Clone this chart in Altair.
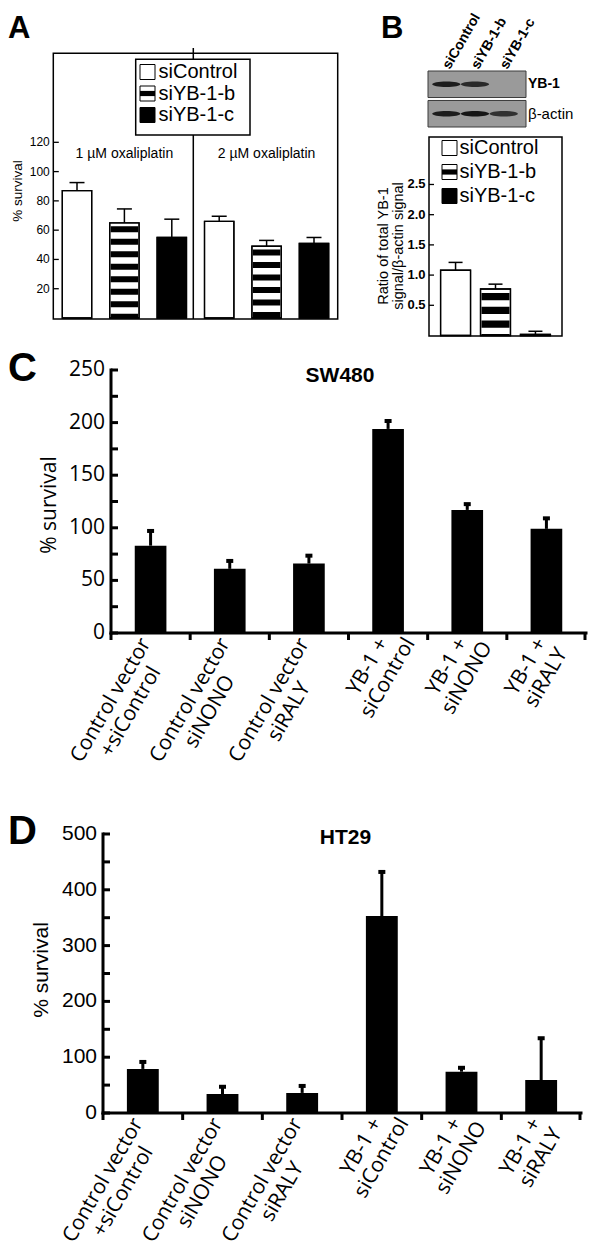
import altair as alt
import pandas as pd

# ---------------- values ----------------
A_DOSES = ["1 µM oxaliplatin"] * 3 + ["2 µM oxaliplatin"] * 3
A_SERIES = ["siControl", "siYB-1-b", "siYB-1-c"] * 2
A_VALUES = [87, 65, 55, 66, 49, 51]
A_ERRORS = [5.5, 9.5, 12.5, 3.5, 4.0, 4.0]
A_TICKS = [20, 40, 60, 80, 100, 120]

B_SERIES = ["siControl", "siYB-1-b", "siYB-1-c"]
B_VALUES = [1.08, 0.77, 0.02]
B_ERRORS = [0.13, 0.08, 0.05]
B_TICKS = [0.5, 1.0, 1.5, 2.0, 2.5]

BLOT_LANES = ["siControl", "siYB-1-b", "siYB-1-c"]
BLOT_PROTEINS = ["YB-1", "β-actin"]
BLOT_YB1 = [0.95, 0.85, 0.0]
BLOT_ACTIN = [0.95, 1.0, 0.8]

CONDITIONS = ["Control vector\n+siControl", "Control vector\nsiNONO", "Control vector\nsiRALY",
              "YB-1 +\nsiControl", "YB-1 +\nsiNONO", "YB-1 +\nsiRALY"]
C_VALUES = [83, 61, 66, 194, 117, 99]
C_ERRORS = [14, 7.5, 7.5, 7.5, 5.5, 10]
C_LABELS = [0, 50, 100, 150, 200, 250]
C_TICKS = [0, 25, 50, 75, 100, 125, 150, 175, 200, 225, 250]
D_VALUES = [79, 34, 36, 353, 74, 59]
D_ERRORS = [12.5, 13, 12.5, 79, 7, 75]
D_LABELS = [0, 100, 200, 300, 400, 500]
D_TICKS = [0, 50, 100, 150, 200, 250, 300, 350, 400, 450, 500]

# ---------------- layout helpers ----------------
W, H = 584, 1240
FA = "Liberation Sans"
FO = "Open Sans"
K = "black"
one = pd.DataFrame({"k": [0]})


def P(v):
    """page pixel -> chart pixel (page has an 8px margin)"""
    return v - 8.0


OS_W = {" ": 0.26, "C": 0.633, "o": 0.602, "n": 0.613, "t": 0.353, "r": 0.408, "l": 0.258,
        "v": 0.496, "e": 0.561, "c": 0.479, "Y": 0.537, "B": 0.639, "-": 0.322, "1": 0.572,
        "+": 0.572, "s": 0.487, "i": 0.258, "N": 0.752, "O": 0.785, "R": 0.63, "A": 0.635,
        "L": 0.531}


def text_w(s, fs):
    return sum(OS_W.get(ch, 0.56) for ch in s) * fs


XL_FS = 21
XL_LH = 23
U, V = -8.5, -0.5   # label anchor shift in the rotated text frame


def txt(text, x, y, size, font=FA, weight="normal", angle=0, align="left", baseline="alphabetic"):
    return alt.Chart(one).mark_text(text=text, font=font, fontSize=size, fontWeight=weight,
                                    angle=angle, align=align, baseline=baseline, color=K).encode(
        x=alt.value(P(x)), y=alt.value(P(y)))


def rect(x1, x2, y1, y2, fill="white", stroke=K, sw=1.0, fop=1.0):
    return alt.Chart(one).mark_rect(fill=fill, fillOpacity=fop, stroke=stroke, strokeWidth=sw).encode(
        x=alt.value(P(x1)), x2=alt.value(P(x2)), y=alt.value(P(y1)), y2=alt.value(P(y2)))


def legend(xs, xt, centers, size=15, fs=20):
    out = []
    fills = {"siControl": "white", "siYB-1-b": "white", "siYB-1-c": K}
    for s, cy in zip(B_SERIES, centers):
        out.append(rect(xs, xs + size, cy - size / 2, cy + size / 2, fill=fills[s], sw=1.0))
        if s == "siYB-1-b":
            out.append(rect(xs, xs + size, cy - 2.6, cy + 2.6, fill=K, sw=0))
        out.append(txt(s, xt, cy, fs, baseline="middle"))
    return out


def y_labels(ticks, scale, x_axis, pad, font, size, weight="normal", fmt=None):
    t = alt.Text("t:Q", format=fmt) if fmt else alt.Text("t:Q")
    return alt.Chart(pd.DataFrame({"t": ticks})).mark_text(
        align="right", baseline="middle", font=font, fontSize=size, fontWeight=weight, color=K).encode(
        y=alt.Y("t:Q", scale=scale, axis=None), x=alt.value(P(x_axis) - pad), text=t)


def in_ticks(ticks, scale, x_axis, length, width):
    return alt.Chart(pd.DataFrame({"t": ticks})).mark_rule(strokeWidth=width, color=K).encode(
        y=alt.Y("t:Q", scale=scale, axis=None), x=alt.value(P(x_axis)), x2=alt.value(P(x_axis) + length))


FILL = {"siControl": "white", "siYB-1-b": "white", "siYB-1-c": K}

# ---------------- Panel A ----------------
dfA = pd.DataFrame({"dose": A_DOSES, "series": A_SERIES, "value": A_VALUES, "err": A_ERRORS})
dfA["key"] = dfA["dose"] + " / " + dfA["series"]
dfA["top"] = dfA["value"] + dfA["err"]
dfA["zero"] = 0
dfA["fill"] = dfA["series"].map(FILL)

xA = alt.Scale(domain=list(dfA["key"]), range=[P(53.3), P(337.7)], paddingInner=0.38, paddingOuter=0.19)
yA = alt.Scale(domain=[0, 180.8], range=[P(318), P(53.3)])
XA = alt.X("key:N", scale=xA, axis=None)
YA = alt.Y("value:Q", scale=yA, axis=None)
baseA = alt.Chart(dfA)

barsA = baseA.mark_bar(stroke=K, strokeWidth=1.3).encode(x=XA, y=YA, fill=alt.Fill("fill:N", scale=None))
stripesA = baseA.transform_filter("datum.series == 'siYB-1-b'").mark_rule(
    strokeWidth=27.5, strokeDash=[6, 6.5], strokeDashOffset=9.2, color=K).encode(x=XA, y=YA, y2="zero:Q")
outlineA = baseA.mark_bar(fillOpacity=0, stroke=K, strokeWidth=1.3).encode(x=XA, y=YA)
errA = baseA.mark_rule(strokeWidth=1.5, color=K).encode(x=XA, y=YA, y2="top:Q")
capA = baseA.mark_tick(size=15, thickness=1.5, color=K, opacity=1).encode(
    x=XA, y=alt.Y("top:Q", scale=yA, axis=None))
doseA = baseA.transform_filter("datum.series == 'siYB-1-b'").mark_text(
    font=FA, fontSize=14, align="center", baseline="middle", color=K).encode(
    x=XA, y=alt.value(P(154)), text="dose:N")
panelA = alt.layer(barsA, stripesA, outlineA, errA, capA, doseA,
                   in_ticks(A_TICKS, yA, 53.3, 5.5, 1.3),
                   y_labels(A_TICKS, yA, 53.3, 3.5, FA, 12))

decorA = [rect(53.3, 337.7, 53.3, 319, fop=0, sw=1.5)]
decorA.append(alt.Chart(one).mark_rule(color=K, strokeWidth=1.5).encode(
    x=alt.value(P(193.3)), y=alt.value(P(48)), y2=alt.value(P(319))))
decorA.append(rect(135.7, 250, 59.3, 135, fill="white", sw=1.5))
decorA += legend(140, 158.5, [72, 93.5, 115])

# ---------------- Panel B ----------------
dfB = pd.DataFrame({"series": B_SERIES, "value": B_VALUES, "err": B_ERRORS})
dfB["top"] = dfB["value"] + dfB["err"]
dfB["zero"] = 0
dfB["fill"] = dfB["series"].map(FILL)
xB = alt.Scale(domain=B_SERIES, range=[P(429), P(562)], paddingInner=0.25, paddingOuter=0.29)
yB = alt.Scale(domain=[0, 3.286], range=[P(335.5), P(137)])
XB = alt.X("series:N", scale=xB, axis=None)
YB = alt.Y("value:Q", scale=yB, axis=None)
baseB = alt.Chart(dfB)
barsB = baseB.mark_bar(stroke=K, strokeWidth=1.3).encode(x=XB, y=YB, fill=alt.Fill("fill:N", scale=None))
stripesB = baseB.transform_filter("datum.series == 'siYB-1-b'").mark_rule(
    strokeWidth=28, strokeDash=[7.3, 6.4], strokeDashOffset=9.7, color=K).encode(x=XB, y=YB, y2="zero:Q")
outlineB = baseB.mark_bar(fillOpacity=0, stroke=K, strokeWidth=1.3).encode(x=XB, y=YB)
errB = baseB.mark_rule(strokeWidth=1.5, color=K).encode(x=XB, y=YB, y2="top:Q")
capB = baseB.mark_tick(size=14, thickness=1.5, color=K, opacity=1).encode(
    x=XB, y=alt.Y("top:Q", scale=yB, axis=None))
panelB = alt.layer(barsB, stripesB, outlineB, errB, capB,
                   in_ticks(B_TICKS, yB, 429, 5, 1.3),
                   y_labels(B_TICKS, yB, 429, 3.5, FA, 13, weight="bold", fmt=".1f"))

decorB = [rect(429, 562, 137, 336, fop=0, sw=1.5)]
decorB += legend(442, 459.5, [148, 172, 196])

# western blot
dfBlot = pd.DataFrame({"lane": BLOT_LANES * 2,
                       "protein": [BLOT_PROTEINS[0]] * 3 + [BLOT_PROTEINS[1]] * 3,
                       "intensity": BLOT_YB1 + BLOT_ACTIN})
xBl = alt.Scale(domain=BLOT_LANES, range=[P(432), P(518)], paddingInner=0.1, paddingOuter=0.05)
yBl = alt.Scale(domain=BLOT_PROTEINS, range=[P(71), P(127)], paddingInner=0.1, paddingOuter=0)
dfProt = pd.DataFrame({"protein": BLOT_PROTEINS})
blotBoxes = alt.Chart(dfProt).mark_rect(fill="#9a9a9a", stroke="#3a3a3a", strokeWidth=1).encode(
    y=alt.Y("protein:N", scale=yBl, axis=None), x=alt.value(P(428)), x2=alt.value(P(526)))
BAND_SHAPE = "M-1,0 A1,0.2 0 1,0 1,0 A1,0.2 0 1,0 -1,0 Z"
blotBands = alt.Chart(dfBlot).mark_point(shape=BAND_SHAPE, filled=True, color="#151515", size=800,
                                         strokeWidth=0).encode(
    x=alt.X("lane:N", scale=xBl, axis=None), y=alt.Y("protein:N", scale=yBl, axis=None),
    opacity=alt.Opacity("intensity:Q", scale=None))
laneLab = alt.Chart(pd.DataFrame({"lane": BLOT_LANES})).mark_text(
    angle=300, align="left", baseline="middle", font=FA, fontSize=14, fontWeight="bold", color=K, dx=0).encode(
    x=alt.X("lane:N", scale=xBl, axis=None), y=alt.value(P(68)), text="lane:N")
protLab1 = alt.Chart(dfProt).transform_filter("datum.protein == 'YB-1'").mark_text(
    align="left", baseline="middle", font=FA, fontSize=14, fontWeight="bold", color=K).encode(
    y=alt.Y("protein:N", scale=yBl, axis=None), x=alt.value(P(528)), text="protein:N")
protLab2 = alt.Chart(dfProt).transform_filter("datum.protein != 'YB-1'").mark_text(
    align="left", baseline="middle", font=FA, fontSize=15, color=K).encode(
    y=alt.Y("protein:N", scale=yBl, axis=None), x=alt.value(P(528)), text="protein:N")
blot = alt.layer(blotBoxes, blotBands, laneLab, protLab1, protLab2)


# ---------------- Panels C and D ----------------
def survival_panel(values, errors, xl, xr, ybot, ytop, ymax, labels, ticks, label_font):
    df = pd.DataFrame({"cond": CONDITIONS, "value": values, "err": errors})
    df["top"] = df["value"] + df["err"]
    df["zero"] = 0
    parts = [c.split("\n") for c in CONDITIONS]
    df["l1"] = [p[0] for p in parts]
    df["l2"] = [p[1] for p in parts]
    df["ldx"] = [-text_w(p[0], XL_FS) / 2 + U for p in parts]
    xs = alt.Scale(domain=CONDITIONS, range=[P(xl), P(xr)], paddingInner=0.6, paddingOuter=0.3)
    ys = alt.Scale(domain=[0, ymax], range=[P(ybot), P(ytop)])
    X = alt.X("cond:N", scale=xs, axis=None)
    Y = alt.Y("value:Q", scale=ys, axis=None)
    base = alt.Chart(df)
    bars = base.mark_bar(color=K).encode(x=X, y=Y)
    err = base.mark_rule(strokeWidth=3, color=K).encode(x=X, y=Y, y2="top:Q")
    cap = base.mark_tick(size=7, thickness=4, color=K, opacity=1).encode(
        x=X, y=alt.Y("top:Q", scale=ys, axis=None))
    lab1 = base.mark_text(angle=300, align="center", baseline="middle", font=FO, fontSize=XL_FS, color=K,
                          dx=alt.expr("datum.ldx"), dy=V).encode(
        x=X, y=alt.Y("zero:Q", scale=ys, axis=None), text="l1:N")
    lab2 = base.mark_text(angle=300, align="center", baseline="middle", font=FO, fontSize=XL_FS, color=K,
                          dx=alt.expr("datum.ldx"), dy=V + XL_LH).encode(
        x=X, y=alt.Y("zero:Q", scale=ys, axis=None), text="l2:N")
    ext = pd.DataFrame({"lo": [0], "hi": [ymax]})
    yline = alt.Chart(ext).mark_rule(strokeWidth=3, color=K, strokeCap="square").encode(
        x=alt.value(P(xl)), y=alt.Y("lo:Q", scale=ys, axis=None), y2="hi:Q")
    xline = alt.Chart(ext).mark_rule(strokeWidth=3, color=K, strokeCap="square").encode(
        y=alt.Y("lo:Q", scale=ys, axis=None), x=alt.value(P(xl)), x2=alt.value(P(xr)))
    panel = alt.layer(bars, err, cap, lab1, lab2, yline, xline,
                      in_ticks(ticks, ys, xl, 7, 3),
                      y_labels(labels, ys, xl, 6, label_font, 21))
    # x ticks at the band boundaries (same domain and range, no padding)
    xs0 = alt.Scale(domain=CONDITIONS, range=[P(xl), P(xr)], paddingInner=0, paddingOuter=0)
    xt = alt.Chart(pd.DataFrame({"cond": CONDITIONS})).mark_rule(strokeWidth=3, color=K).encode(
        x=alt.X("cond:N", scale=xs0, axis=None, bandPosition=0),
        y=alt.value(P(ybot)), y2=alt.value(P(ybot) + 7))
    xend = alt.Chart(one).mark_rule(strokeWidth=3, color=K).encode(
        x=alt.value(P(xr) - 1), y=alt.value(P(ybot)), y2=alt.value(P(ybot) + 7))
    return [panel, xt, xend]


panelC = survival_panel(C_VALUES, C_ERRORS, 111, 586, 633, 370, 250, C_LABELS, C_TICKS, FO)
panelD = survival_panel(D_VALUES, D_ERRORS, 103, 581, 1113, 834, 500, D_LABELS, D_TICKS, FA)

# ---------------- titles and panel letters ----------------
decor = [
    txt("A", 8, 37.5, 31, weight="bold"),
    txt("B", 381, 37.5, 31, weight="bold"),
    txt("C", 8, 381, 40, weight="bold"),
    txt("D", 8, 844, 40, weight="bold"),
    txt("% survival", 18, 191, 13.5, angle=270, align="center", baseline="middle"),
    txt("Ratio of total YB-1", 384, 246, 14.5, angle=270, align="center", baseline="middle"),
    txt("signal/β-actin signal", 399, 246, 14.5, angle=270, align="center", baseline="middle"),
    txt("SW480", 340, 376, 21, weight="bold", align="center", baseline="middle"),
    txt("% survival", 50, 505, 21, font=FO, angle=270, align="center", baseline="middle"),
    txt("HT29", 345.5, 838, 21, weight="bold", align="center", baseline="middle"),
    txt("% survival", 42, 970, 21, angle=270, align="center", baseline="middle"),
]

chart = alt.layer(
    panelA, *decorA, panelB, *decorB, blot, *panelC, *panelD, *decor
).resolve_scale(x="independent", y="independent").properties(
    width=W, height=H, autosize=alt.AutoSizeParams(type="none"), padding=0
).configure_view(stroke="transparent")

chart.save("out.html", embed_options={"renderer": "svg", "actions": False})
